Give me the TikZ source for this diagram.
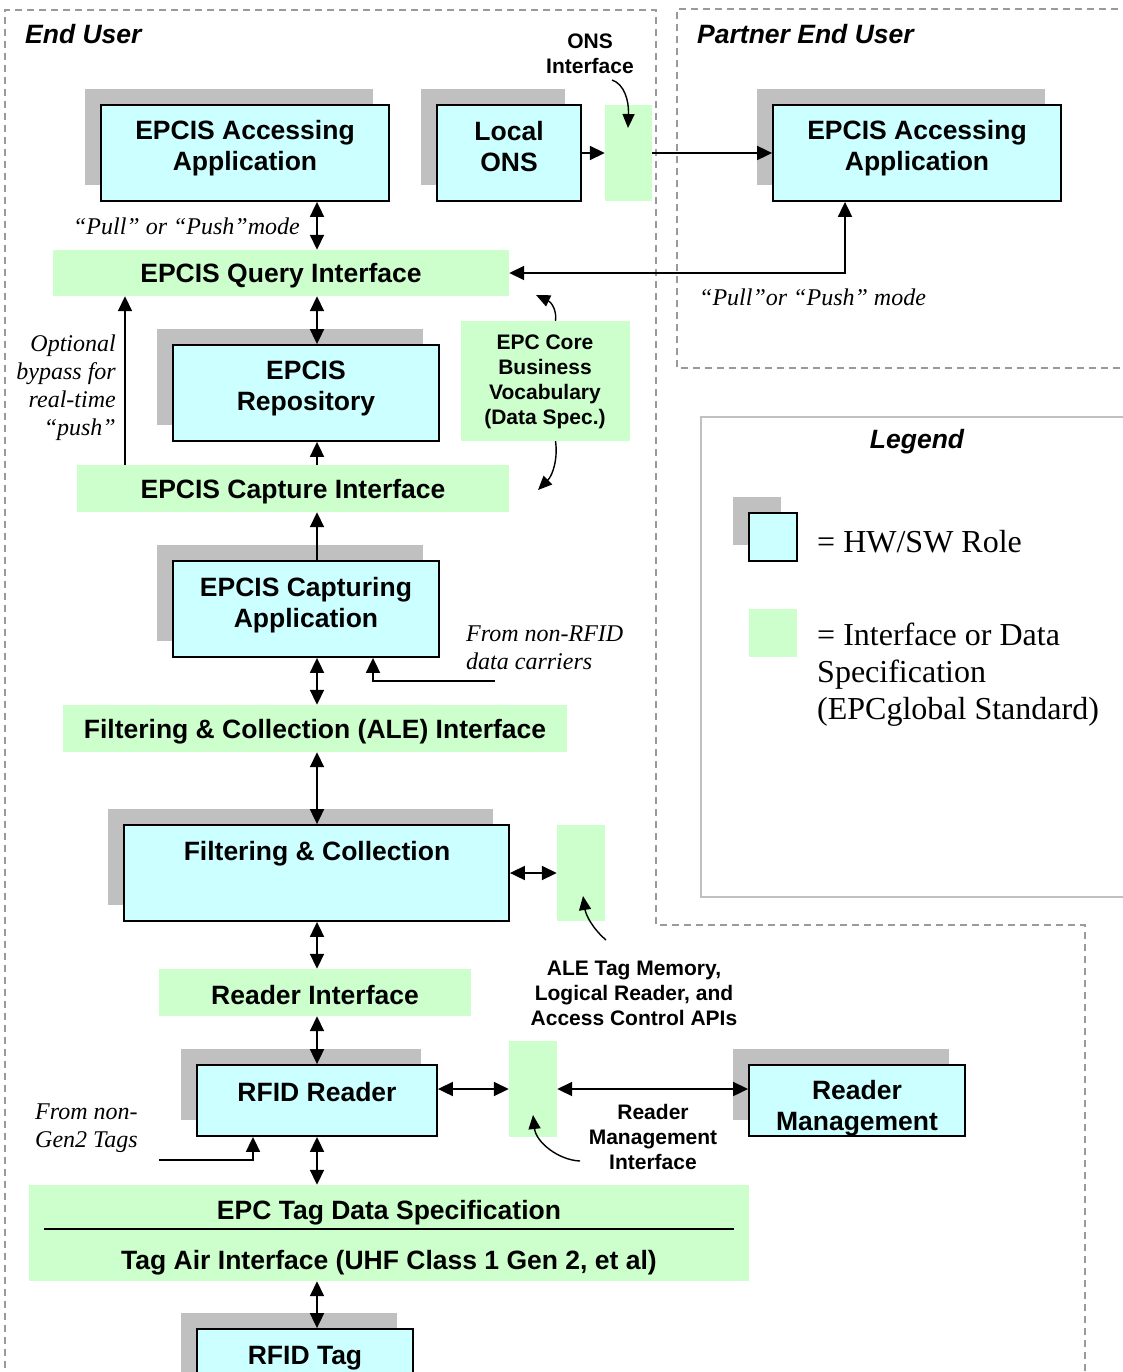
\documentclass[tikz,border=0pt]{standalone}
\usepackage{fontspec}
\setmainfont{Liberation Serif}
\setsansfont{Liberation Sans}
\usetikzlibrary{arrows.meta,shadows,calc}
\definecolor{rolefill}{HTML}{CCFFFF}
\definecolor{specfill}{HTML}{CCFFCC}
\definecolor{shadefill}{HTML}{C0C0C0}
\definecolor{zoneline}{HTML}{9A9A9A}
\definecolor{legendline}{HTML}{C0C0C0}
\begin{document}
\begin{tikzpicture}[x=1pt,y=-1pt,
  role/.style={draw=black, line width=1.8pt, fill=rolefill, inner sep=0pt,
    general shadow={fill=shadefill, shadow xshift=-16pt, shadow yshift=16pt}},
  spec/.style={fill=specfill, draw=none, inner sep=0pt},
  bigtext/.style={font=\sffamily\bfseries\fontsize{26.5}{31}\selectfont, align=center, inner sep=0pt},
  smalltext/.style={font=\sffamily\bfseries\fontsize{21}{25}\selectfont, align=center, inner sep=0pt},
  zonetitle/.style={font=\sffamily\bfseries\itshape\fontsize{26.5}{31}\selectfont, inner sep=0pt},
  note/.style={font=\rmfamily\itshape\fontsize{24}{28}\selectfont, inner sep=0pt},
  legendtext/.style={font=\rmfamily\fontsize{32}{37}\selectfont, inner sep=0pt, align=left, anchor=west},
  flow/.style={line width=1.8pt, -{Triangle[length=15pt,width=14pt]}},
  flow2/.style={line width=1.8pt, {Triangle[length=15pt,width=14pt]}-{Triangle[length=15pt,width=14pt]}},
  pointer/.style={line width=1.4pt, -{Triangle[length=14pt,width=12pt]}},
  zone/.style={draw=zoneline, line width=1.3pt, dash pattern=on 7pt off 5pt}]

\useasboundingbox (0,0) rectangle (1123,1372);

% organisational zones
\draw[zone] (5,1380) -- (5,10) -- (656,10) -- (656,925) -- (1085,925) -- (1085,1380);
\draw[zone] (1130,9) -- (677,9) -- (677,368) -- (1130,368);
\draw[draw=legendline, line width=1.8pt] (1130,417) -- (701,417) -- (701,897) -- (1130,897);

\node[zonetitle, anchor=west] (euser) at (25,34) {End User};
\node[zonetitle, anchor=west] (puser) at (697,34) {Partner End User};

% hardware / software roles
\node[role, minimum width=288pt, minimum height=96pt] (acc) at (245,153) {};
\node[bigtext] (acct) at (245,148) {EPCIS Accessing\\Application};
\node[role, minimum width=144pt, minimum height=96pt] (ons) at (509,153) {};
\node[bigtext] (onst) at (509,147) {Local\\ONS};
\node[role, minimum width=288pt, minimum height=96pt] (pacc) at (917,153) {};
\node[bigtext] (pacct) at (917,148) {EPCIS Accessing\\Application};
\node[role, minimum width=266pt, minimum height=96pt] (repo) at (306,393) {};
\node[bigtext] (repot) at (306,388) {EPCIS\\Repository};
\node[role, minimum width=266pt, minimum height=96pt] (capapp) at (306,609) {};
\node[bigtext] (capappt) at (306,605) {EPCIS Capturing\\Application};
\node[role, minimum width=385pt, minimum height=96pt] (fc) at (316.5,873) {};
\node[bigtext] (fct) at (317,854) {Filtering \& Collection};
\node[role, minimum width=240pt, minimum height=71pt] (reader) at (317,1100.5) {};
\node[bigtext] (readert) at (317,1092) {RFID Reader};
\node[role, minimum width=216pt, minimum height=71pt] (rmgmt) at (857,1100.5) {};
\node[bigtext] (rmgmtt) at (857,1108) {Reader\\Management};
\node[role, minimum width=216pt, minimum height=96pt] (tag) at (305,1377) {};
\node[bigtext] (tagt) at (305,1358) {RFID Tag};

% interfaces and data specifications
\node[spec, minimum width=456pt, minimum height=46pt] (qif) at (281,273) {};
\node[bigtext] (qift) at (281,276) {EPCIS Query Interface};
\node[spec, minimum width=47pt, minimum height=96pt] (onsif) at (628.5,153) {};
\node[spec, minimum width=169pt, minimum height=120pt] (core) at (545.5,381) {};
\node[smalltext] (coret) at (545,382) {EPC Core\\Business\\Vocabulary\\(Data Spec.)};
\node[spec, minimum width=432pt, minimum height=47pt] (capif) at (293,488.5) {};
\node[bigtext] (capift) at (293,492) {EPCIS Capture Interface};
\node[spec, minimum width=504pt, minimum height=47pt] (aleif) at (315,728.5) {};
\node[bigtext] (aleift) at (315,732) {Filtering \& Collection (ALE) Interface};
\node[spec, minimum width=48pt, minimum height=96pt] (aleside) at (581,873) {};
\node[spec, minimum width=312pt, minimum height=47pt] (rif) at (315,992.5) {};
\node[bigtext] (rift) at (315,995) {Reader Interface};
\node[spec, minimum width=48pt, minimum height=96pt] (rmif) at (533,1089) {};
\node[spec, minimum width=720pt, minimum height=96pt] (tagif) at (389,1233) {};
\node[bigtext] (tdst) at (389,1213) {EPC Tag Data Specification};
\node[bigtext] (airt) at (389,1263) {Tag Air Interface (UHF Class 1 Gen 2, et al)};
\draw[line width=1.8pt] ($(tagif.west)+(15,-4)$) -- ($(tagif.east)+(-15,-4)$);

% free-standing labels
\node[smalltext] (onslbl) at (590,54) {ONS\\Interface};
\node[note, anchor=east] (mode1) at (300,226) {“Pull” or “Push”mode};
\node[note, anchor=east, align=right] (bypass) at (116,388) {Optional\\bypass for\\real-time\\“push”};
\node[note, anchor=west] (mode2) at (699,297) {“Pull”or “Push” mode};
\node[note, anchor=west, align=left] (nrfidt) at (466,648) {From non-RFID\\data carriers};
\node[smalltext] (alelbl) at (634,993) {ALE Tag Memory,\\Logical Reader, and\\Access Control APIs};
\node[smalltext] (rmlbl) at (653,1137) {Reader\\Management\\Interface};
\node[note, anchor=west, align=left] (ng2t) at (35,1128) {From non-\\Gen2 Tags};

% legend
\node[zonetitle] (legt) at (917,442) {Legend};
\node[role, minimum width=48pt, minimum height=48pt] (legrole) at (773,537) {};
\node[legendtext] (legrolet) at (817,542) {= HW/SW Role};
\node[spec, minimum width=48pt, minimum height=48pt] (legspec) at (773,633) {};
\node[legendtext] (legspect) at (817,675) {= Interface or Data\\Specification\\(EPCglobal Standard)};

% connectors
\coordinate (spine) at (317,0);
\coordinate (bypassx) at (125,0);
\coordinate (rrow) at (0,1089);
\coordinate (nrfid) at (495,681);
\coordinate (ng2) at (159,1160);

\draw[flow2] (acc.south -| spine) -- (qif.north -| spine);
\draw[flow2] (qif.south -| spine) -- (repo.north -| spine);
\draw[flow] (capif.north -| spine) -- (repo.south -| spine);
\draw[flow] (capapp.north -| spine) -- (capif.south -| spine);
\draw[flow] (capif.north -| bypassx) -- (qif.south -| bypassx);
\draw[flow2] (capapp.south -| spine) -- (aleif.north -| spine);
\draw[flow] (nrfid) -| ($(capapp.south)+(67,0)$);
\draw[flow2] (aleif.south -| spine) -- (fc.north -| spine);
\draw[flow2] (fc.east) -- (aleside.west);
\draw[flow2] (fc.south -| spine) -- (rif.north -| spine);
\draw[flow2] (rif.south -| spine) -- (reader.north -| spine);
\draw[flow2] (reader.east |- rrow) -- (rmif.west |- rrow);
\draw[flow2] (rmif.east |- rrow) -- (rmgmt.west |- rrow);
\draw[flow] (ng2) -| ($(reader.south)+(-64,0)$);
\draw[flow2] (reader.south -| spine) -- (tagif.north -| spine);
\draw[flow2] (tagif.south -| spine) -- (tag.north -| spine);
\draw[flow] (ons.east) -- (onsif.west);
\draw[flow] (onsif.east) -- (pacc.west);
\draw[flow2] (qif.east) -| ($(pacc.south)+(-72,0)$);

% label pointers
\coordinate (onsfrom) at (612,80);
\coordinate (onsto) at (628,128);
\draw[pointer] (onsfrom) .. controls (624,84) and (629,100) .. (onsto);
\coordinate (coreup) at (536,295);
\coordinate (coredown) at (538,490);
\draw[pointer] ($(core.north)+(10,0)$) .. controls (557,310) and (551,302) .. (coreup);
\draw[pointer] ($(core.south)+(10,0)$) .. controls (558,458) and (553,475) .. (coredown);
\coordinate (alefrom) at (606,940);
\coordinate (aleto) at (583,896);
\draw[pointer] (alefrom) .. controls (594,930) and (586,916) .. (aleto);
\coordinate (rmfrom) at (580,1161);
\coordinate (rmto) at (533,1115);
\draw[pointer] (rmfrom) .. controls (558,1160) and (536,1142) .. (rmto);
\end{tikzpicture}
\end{document}
